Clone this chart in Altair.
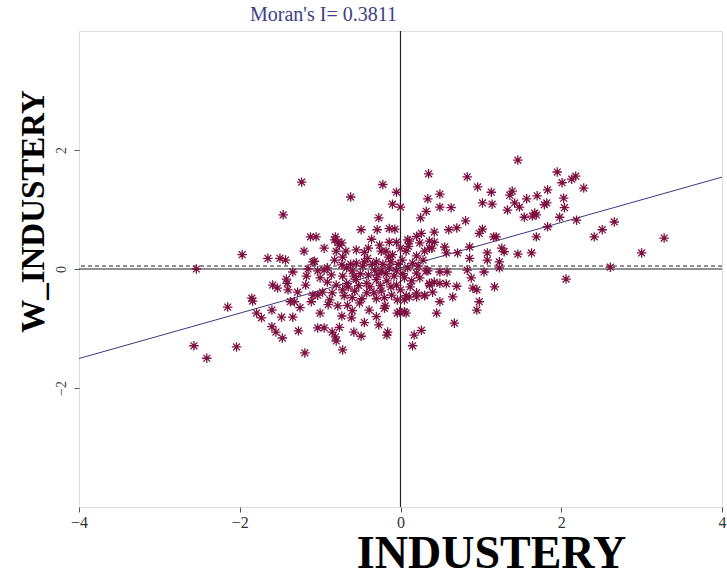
import altair as alt
import pandas as pd

# Standardised industry share (x) and its spatial lag (y), one entry per unit
industery = [
    -1.23, -1.46, -1.12, -1.05, -0.81, -0.78, -2.54, -1.97, -1.65, -1.50,
    -1.43, -1.09, -0.82, -0.72, -0.76, -0.49, -0.29, -0.27, -0.22, -0.62,
    -0.05, -0.10, 0.00, -0.14, -0.07, 0.35, 0.83, 0.96, 1.13, 1.02,
    1.14, 0.49, 0.34, 0.49, 0.63, 0.32, 0.25, 0.81, 0.60, 0.70,
    1.02, 0.98, 1.16, 0.42, -0.36, 0.09, 0.20, 0.26, 1.46, 1.95,
    2.18, 2.13, 2.01, 2.28, 1.83, 1.39, 1.36, 1.70, 1.57, 2.03,
    1.82, 1.79, 1.42, 1.48, 1.33, 1.67, 1.69, 1.54, 1.64, 2.04,
    1.98, 2.19, 2.66, 1.83, 2.51, 2.41, 1.69, 3.28, 1.19, 3.00,
    1.46, 1.63, 1.26, 1.29, 2.61, 2.06, 1.23, 1.23, 1.17, 1.08,
    1.08, 0.86, 0.86, 0.71, 0.55, 0.57, 0.39, 0.42, 0.88, 0.90,
    0.95, 0.98, 0.95, 0.65, 0.70, 0.57, 0.49, 0.42, 0.36, 0.49,
    0.45, 0.67, 0.26, 0.17, 0.15, 0.83, 1.04, 0.34, 0.49, 0.58,
    0.40, 0.30, 0.20, 0.11, -0.01, 0.05, -0.19, -0.27, -0.16, -0.17,
    -0.58, -0.49, -0.72, -0.76, -1.85, -1.84, -2.15, -1.79, -1.73, -1.60,
    -1.48, -1.34, -1.60, -1.55, -1.47, -1.27, -2.57, -2.41, -2.04, -1.19,
    -1.00, -1.03, -0.95, -0.85, -0.81, -0.80, -1.59, -1.53, -1.42, -1.41,
    -1.34, -1.17, -1.18, -1.28, -1.37, -1.32, -1.03, -0.97, -1.11, -0.95,
    -0.86, -0.91, -0.73, -0.82, -0.73, -0.26, -0.14, 0.11, 0.24, 0.36,
    -1.07, -0.41, -0.24, -0.10, 0.07, 0.20, 0.30, 0.36, -1.03, -0.91,
    -0.67, -0.60, -0.47, -0.32, -0.24, -0.14, -0.05, 0.09, 0.20, 0.32,
    -0.72, -0.80, -0.67, -0.55, -0.42, -0.30, -0.17, -0.05, 0.05, 0.14,
    0.24, 0.36, -1.09, -0.72, -0.57, -0.42, -0.24, -0.11, 0.07, 0.20,
    0.30, -0.88, -0.78, -0.66, -0.51, -0.04, 0.05, -0.73, -0.61, -0.39,
    -0.20, -0.04, 0.07, -0.55, -0.50, -0.45, -0.40, -0.35, -0.30, -0.28,
    -0.22, -0.18, -0.12, -0.08, -0.03, 0.02, 0.03, -0.62, -0.58, -0.65,
    -0.52, -0.38, -0.25, -0.12, 0.00, 0.12, -0.45, -0.55, -0.18, 0.00,
    0.15, 0.22, -0.70, -0.60, -0.48, -0.30, -0.20, -0.85, -0.90, -0.68,
    -0.40, 0.10, -0.33, -0.15, -0.05, 0.28, -0.80, -0.95, -1.20, -1.25,
    -0.60, -0.30, -0.45, -1.40, -1.00, -1.15,
]

w_industery = [
    1.46, 0.91, 0.54, 0.54, 0.54, 0.45, 0.00, 0.24, 0.18, 0.18,
    0.15, 0.12, 0.15, 0.20, 0.40, 0.66, 0.66, 0.86, 1.42, 1.21,
    1.29, 1.09, 1.04, 0.68, 0.67, 1.60, 1.55, 1.38, 1.29, 1.11,
    1.09, 1.26, 1.18, 1.04, 1.03, 0.97, 0.86, 0.81, 0.66, 0.69,
    0.67, 0.60, 0.54, 0.62, 0.50, 0.49, 0.55, 0.60, 1.83, 1.63,
    1.56, 1.51, 1.45, 1.36, 1.33, 1.31, 1.24, 1.23, 1.18, 1.19,
    1.11, 1.08, 1.11, 1.04, 0.99, 0.94, 0.91, 0.87, 0.89, 1.03,
    0.87, 0.82, 0.79, 0.71, 0.66, 0.54, 0.54, 0.52, 0.54, 0.27,
    0.25, 0.27, 0.35, 0.29, 0.03, -0.17, 0.02, 0.12, -0.30, 0.27,
    0.15, 0.37, 0.18, 0.27, 0.37, 0.27, 0.35, 0.45, -0.15, -0.32,
    -0.35, -0.55, -0.69, -0.47, -0.29, -0.25, -0.24, -0.22, -0.24, -0.55,
    -0.74, -0.91, -1.03, -1.11, -1.29, -0.02, -0.05, -0.03, -0.05, -0.05,
    -0.39, -0.44, -0.47, -0.47, -0.72, -0.72, -0.62, -0.94, -1.06, -1.11,
    -1.06, -1.13, -1.36, -0.98, -0.49, -0.54, -0.64, -0.74, -0.82, -0.69,
    -0.81, -0.81, -0.97, -1.06, -1.16, -1.04, -1.29, -1.50, -1.31, -1.41,
    -0.74, -0.99, -0.99, -1.06, -1.14, -1.21, -0.27, -0.32, -0.17, -0.24,
    -0.05, -0.12, -0.27, -0.39, -0.55, -0.55, -0.44, -0.39, -0.55, -0.02,
    -0.10, -0.22, 0.07, 0.49, 0.44, 0.40, 0.45, 0.47, 0.44, 0.47,
    0.13, 0.18, 0.30, 0.24, 0.30, 0.22, 0.30, 0.35, -0.03, 0.02,
    0.02, -0.03, 0.05, -0.02, -0.03, 0.02, -0.03, 0.02, -0.07, -0.03,
    -0.12, -0.27, -0.24, -0.18, -0.24, -0.18, -0.20, -0.27, -0.15, -0.20,
    -0.15, -0.27, -0.44, -0.35, -0.37, -0.40, -0.37, -0.44, -0.45, -0.40,
    -0.45, -0.52, -0.62, -0.61, -0.57, -0.52, -0.52, -0.79, -0.82, -0.69,
    -0.66, -0.74, -0.74, 0.10, -0.08, 0.12, -0.10, 0.08, 0.12, -0.10,
    0.08, -0.08, 0.12, -0.12, 0.08, 0.15, -0.08, 0.08, -0.12, -0.30,
    -0.28, -0.30, -0.28, -0.30, -0.35, -0.30, 0.28, 0.32, 0.30, 0.35,
    0.10, 0.05, -0.45, -0.48, -0.50, -0.50, -0.48, -0.40, -0.60, 0.30,
    0.35, 0.38, -0.40, 0.20, 0.45, 0.15, 0.30, 0.35, 0.30, -0.65,
    -0.70, -0.80, -0.90, -0.35, -0.15, 0.00,
]

morans_i = 0.3811          # slope of the fitted line
fit_intercept = 0.02
w_mean = 0.05              # mean of the spatial lag (dashed line)
x_ticks = [-4, -2, 0, 2, 4]
y_ticks = [-2, 0, 2]
line_ends = [-4, 4]

points = pd.DataFrame({"INDUSTERY": industery, "W_INDUSTERY": w_industery})
fit = pd.DataFrame({
    "INDUSTERY": line_ends,
    "W_INDUSTERY": [fit_intercept + morans_i * v for v in line_ends],
})

serif = "Liberation Serif"
asterisk = "M-1,0L1,0M0,-1L0,1M-0.72,-0.72L0.72,0.72M-0.72,0.72L0.72,-0.72"

x_scale = alt.Scale(domain=[-4, 4], nice=False, zero=False)
y_scale = alt.Scale(domain=[-4, 4], nice=False, zero=False)

x_axis = alt.Axis(
    values=x_ticks, format="d", grid=False, domain=False, tickSize=5,
    tickColor="#555", labelFont=serif, labelFontSize=16, labelColor="#333",
    labelPadding=2, labelFlush=False,
    title="INDUSTERY", titleFont=serif, titleFontWeight="bold",
    titleFontSize=46, titleColor="#000", titleX=412, titleY=60,
    titleAlign="center", titleBaseline="alphabetic",
)
y_axis = alt.Axis(
    values=y_ticks, format="d", grid=False, domain=False, tickSize=5,
    tickColor="#555", labelFont=serif, labelFontSize=14, labelColor="#444",
    labelAngle=270, labelAlign="center", labelBaseline="bottom",
    labelPadding=6,
    title="W_INDUSTERY", titleFont=serif, titleFontWeight="bold",
    titleFontSize=33, titleColor="#000", titleAngle=270, titleX=-36,
    titleY=180, titleAlign="center", titleBaseline="alphabetic",
)

base_x = alt.X("INDUSTERY:Q", scale=x_scale, axis=x_axis)
base_y = alt.Y("W_INDUSTERY:Q", scale=y_scale, axis=y_axis)

stars = alt.Chart(points).mark_point(
    shape=asterisk, filled=False, stroke="#7d1040", strokeWidth=1.3,
    size=90, opacity=1,
).encode(x=base_x, y=base_y)

fit_line = alt.Chart(fit).mark_line(
    color="#3a3a86", strokeWidth=1, clip=True
).encode(x=base_x, y=base_y)

v_axis0 = alt.Chart().mark_rule(color="#222", strokeWidth=1.2).encode(
    x=alt.datum(0, scale=x_scale)
)
h_axis0 = alt.Chart().mark_rule(color="#222", strokeWidth=1.2).encode(
    y=alt.datum(0, scale=y_scale)
)
h_mean = alt.Chart().mark_rule(
    color="#222", strokeWidth=1, strokeDash=[4, 3]
).encode(y=alt.datum(w_mean, scale=y_scale))

chart = alt.layer(v_axis0, h_axis0, h_mean, fit_line, stars).properties(
    width=643,
    height=476,
    title=alt.TitleParams(
        "Moran's I= 0.3811", font=serif, fontSize=20, fontWeight="normal",
        color="#404088", anchor="middle", dx=-77, offset=5,
    ),
    autosize=alt.AutoSizeParams(type="none"),
    padding={"left": 79, "top": 31, "right": 5, "bottom": 67},
).configure_view(stroke="#555", strokeWidth=1.5).configure(background="white")

chart.save("out.html", embed_options={"renderer": "svg", "actions": False})
